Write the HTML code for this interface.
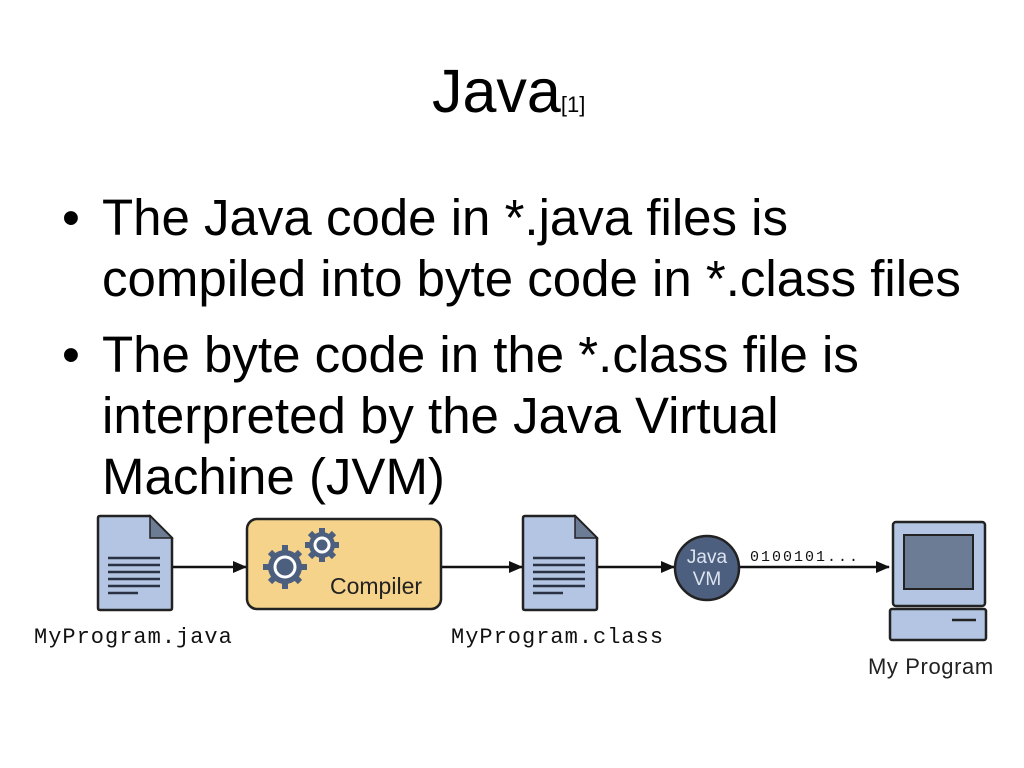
<!DOCTYPE html>
<html><head><style>
body{margin:0;width:1024px;height:768px;background:#fff;overflow:hidden;position:relative;font-family:"Liberation Sans",sans-serif;color:#000}
.t{position:absolute;white-space:nowrap;font-size:51px;line-height:61px}
.b{position:absolute;left:-40px}
</style></head><body>
<div class="t" style="left:432px;top:56px;font-size:61px;line-height:70px">Java<span style="font-size:22px">[1]</span></div>
<div class="t" style="left:102px;top:187px">
<div style="position:relative"><span class="b">•</span>The Java code in *.java files is</div>
<div>compiled into byte code in *.class files</div>
</div>
<div class="t" style="left:102px;top:324px">
<div style="position:relative"><span class="b">•</span>The byte code in the *.class file is</div>
<div>interpreted by the Java Virtual</div>
<div>Machine (JVM)</div>
</div>
<svg width="1024" height="768" style="position:absolute;left:0;top:0">
<defs><g id="doc">
<path d="M2,2 H52 L74,24 V94 Q74,96 72,96 H2 Q0,96 0,94 V4 Q0,2 2,2Z" fill="#b3c5e3" stroke="#222" stroke-width="2.5"/>
<path d="M52,2 V24 H74Z" fill="#6c7c95" stroke="#222" stroke-width="1.5"/>
<g stroke="#2a3142" stroke-width="2.5"><line x1="10" y1="44" x2="62" y2="44"/><line x1="10" y1="51" x2="62" y2="51"/><line x1="10" y1="58" x2="62" y2="58"/><line x1="10" y1="65" x2="62" y2="65"/><line x1="10" y1="72" x2="62" y2="72"/><line x1="10" y1="79" x2="40" y2="79"/></g>
</g>
<marker id="ar" markerWidth="14" markerHeight="14" refX="13" refY="6" orient="auto" markerUnits="userSpaceOnUse"><path d="M0,0 L14,6 L0,12Z" fill="#111"/></marker>
</defs>
<use href="#doc" x="98" y="514"/>
<use href="#doc" x="523" y="514"/>
<g stroke="#111" stroke-width="2.5" marker-end="url(#ar)">
<line x1="173" y1="567" x2="246" y2="567"/>
<line x1="442" y1="567" x2="522" y2="567"/>
<line x1="598" y1="567" x2="674" y2="567"/>
<line x1="740" y1="567" x2="889" y2="567"/>
</g>
<rect x="247" y="519" width="194" height="90" rx="10" fill="#f5d38a" stroke="#222" stroke-width="2.5"/>
<g fill="#4d5f7f">
<circle cx="285" cy="567" r="17"/><circle cx="322" cy="545" r="13"/>
<g stroke="#4d5f7f" stroke-width="6">
<line x1="285" y1="545" x2="285" y2="589"/><line x1="263" y1="567" x2="307" y2="567"/><line x1="270" y1="552" x2="300" y2="582"/><line x1="300" y1="552" x2="270" y2="582"/>
<line x1="322" y1="528" x2="322" y2="562"/><line x1="305" y1="545" x2="339" y2="545"/><line x1="310" y1="533" x2="334" y2="557"/><line x1="334" y1="533" x2="310" y2="557"/>
</g></g>
<circle cx="285" cy="567" r="10" fill="#4d5f7f" stroke="#fff" stroke-width="3"/>
<circle cx="322" cy="545" r="7" fill="#4d5f7f" stroke="#fff" stroke-width="3"/>
<text x="330" y="594" font-size="23" fill="#222" font-family="Liberation Sans">Compiler</text>
<circle cx="707" cy="568" r="32" fill="#4d5f7f" stroke="#222" stroke-width="2.5"/>
<text x="707" y="563" font-size="19" fill="#dde4f0" text-anchor="middle">Java</text>
<text x="707" y="585" font-size="19" fill="#dde4f0" text-anchor="middle">VM</text>
<text x="750" y="561" font-size="15" letter-spacing="2" font-family="Liberation Mono" fill="#111">0100101...</text>
<rect x="893" y="522" width="92" height="84" rx="3" fill="#b3c5e3" stroke="#222" stroke-width="2.5"/>
<rect x="904" y="535" width="69" height="54" fill="#6c7c95" stroke="#222" stroke-width="2"/>
<rect x="890" y="609" width="96" height="31" rx="2" fill="#b3c5e3" stroke="#222" stroke-width="2.5"/>
<line x1="952" y1="620" x2="976" y2="620" stroke="#222" stroke-width="2.5"/>
<text x="34" y="643" font-size="22" letter-spacing="1" font-family="Liberation Mono" fill="#111">MyProgram.java</text>
<text x="451" y="643" font-size="22" letter-spacing="1" font-family="Liberation Mono" fill="#111">MyProgram.class</text>
<text x="868" y="674" font-size="22" letter-spacing="0.6" fill="#222">My Program</text>
</svg>
</body></html>
